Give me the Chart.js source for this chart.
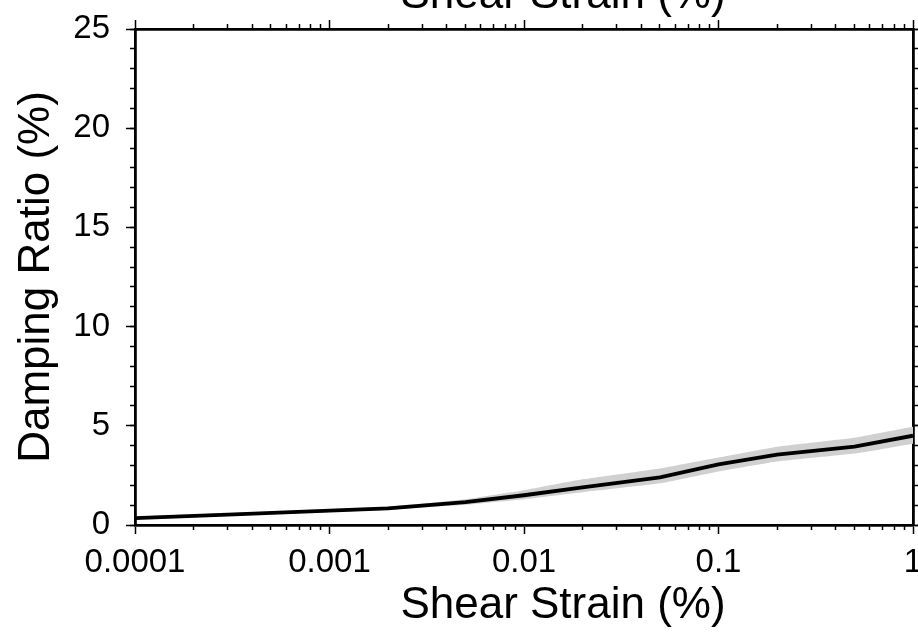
<!DOCTYPE html>
<html><head><meta charset="utf-8">
<script src="https://cdn.jsdelivr.net/npm/chart.js@4.4.0/dist/chart.umd.min.js"></script>
<style>html,body{margin:0;padding:0;background:#fff;overflow:hidden}#wrap{width:918px;height:634px;position:relative}</style>
</head><body><div id="wrap"><canvas id="c" width="918" height="634"></canvas></div>
<script>
const strain    = [0.0001, 0.0003, 0.001, 0.002, 0.005, 0.01, 0.02, 0.05, 0.1, 0.2, 0.5, 1];
const damping   = [0.35,   0.52,   0.72,  0.84,  1.15,  1.5,  1.9,  2.4,  3.05, 3.55, 3.95, 4.5];
const bandUpper = [0.42,   0.6,    0.8,   0.93,  1.3,   1.75, 2.3,  2.85, 3.4,  3.95, 4.4,  4.95];
const bandLower = [0.28,   0.45,   0.65,  0.77,  1.02,  1.3,  1.65, 2.1,  2.7,  3.2,  3.6,  4.1];

const xMajorTicks = [0.0001, 0.001, 0.01, 0.1, 1];
const xTickLabels = ['0.0001', '0.001', '0.01', '0.1', '1'];
const yMajorTicks = [0, 5, 10, 15, 20, 25];
const yTickLabels = ['0', '5', '10', '15', '20', '25'];
const xTitle = 'Shear Strain (%)';
const yTitle = 'Damping Ratio (%)';

const FONT = '"Liberation Sans", Arial, sans-serif';
const xMinorTicks = [];
for (let i = 0; i < xMajorTicks.length - 1; i++) {
  for (let k = 2; k <= 9; k++) xMinorTicks.push(+(k * xMajorTicks[i]).toPrecision(6));
}
const yMinorTicks = [];
for (let v = yMajorTicks[0]; v <= yMajorTicks[yMajorTicks.length - 1]; v++) yMinorTicks.push(v);

const pts = arr => strain.map((s, i) => ({x: s, y: arr[i]}));

function setTicks(list) { return s => { s.ticks = list.map(v => ({value: v})); }; }
function fixSize(dim, val) { return s => { s[dim] = val; s.paddingLeft = 0; s.paddingRight = 0; s.paddingTop = 0; s.paddingBottom = 0; }; }

const baseGrid = len => ({drawOnChartArea: false, drawTicks: true, tickLength: len, tickWidth: 1.5, tickColor: '#000'});
const border = {display: true, color: '#000', width: 2.8};

function xAxis(pos, major, size, labels) {
  return {
    type: 'logarithmic', axis: 'x', position: pos, min: xMajorTicks[0], max: xMajorTicks[xMajorTicks.length - 1],
    weight: major ? 1 : 0,
    afterBuildTicks: setTicks(major ? xMajorTicks : xMinorTicks),
    afterFit: fixSize('height', size),
    grid: baseGrid(major ? 9 : 5),
    border: major ? border : {display: false},
    ticks: labels ? {
      display: true, autoSkip: false, maxRotation: 0, minRotation: 0, padding: 9, color: '#000',
      font: {family: FONT, size: 33},
      callback: v => { const i = xMajorTicks.indexOf(v); return i >= 0 ? xTickLabels[i] : ''; }
    } : {display: false}
  };
}
function yAxis(pos, major, size, labels) {
  return {
    type: 'linear', axis: 'y', position: pos, min: yMajorTicks[0], max: yMajorTicks[yMajorTicks.length - 1],
    weight: major ? 1 : 0,
    afterBuildTicks: setTicks(major ? yMajorTicks : yMinorTicks),
    afterFit: fixSize('width', size),
    grid: baseGrid(major ? 9 : 5),
    border: major ? border : {display: false},
    title: labels ? {display: true, text: yTitle, color: '#000', font: {family: FONT, size: 44, lineHeight: 1.2}, padding: {top: 10, bottom: 0}} : {display: false},
    ticks: labels ? {
      display: true, autoSkip: false, padding: 16, color: '#000',
      font: {family: FONT, size: 33},
      callback: v => { const i = yMajorTicks.indexOf(v); return i >= 0 ? yTickLabels[i] : ''; }
    } : {display: false}
  };
}

const xTitlePlugin = {
  id: 'xTitles',
  afterDraw(chart) {
    const ctx = chart.ctx;
    ctx.save();
    ctx.font = '44px ' + FONT;
    ctx.fillStyle = '#000';
    ctx.textAlign = 'center';
    ctx.textBaseline = 'alphabetic';
    ctx.fillText(xTitle, 563, 618);
    ctx.fillText(xTitle, 563, 8);
    ctx.restore();
  }
};

new Chart(document.getElementById('c'), {
  type: 'line',
  data: {
    datasets: [
      {label: 'Damping', data: pts(damping), xAxisID: 'x', yAxisID: 'y', borderColor: '#000', borderWidth: 3.8, pointRadius: 0, fill: false, tension: 0},
      {label: 'Upper', data: pts(bandUpper), xAxisID: 'x', yAxisID: 'y', borderWidth: 0, borderColor: 'rgba(0,0,0,0)', backgroundColor: '#d0d0d0', pointRadius: 0, fill: '+1', tension: 0.1},
      {label: 'Lower', data: pts(bandLower), xAxisID: 'x', yAxisID: 'y', borderWidth: 0, borderColor: 'rgba(0,0,0,0)', pointRadius: 0, fill: false, tension: 0.1}
    ]
  },
  options: {
    responsive: false, devicePixelRatio: 1, animation: false,
    layout: {padding: 0},
    plugins: {legend: {display: false}, tooltip: {enabled: false}, title: {display: false}},
    scales: {
      x: xAxis('bottom', true, 109, true),
      xm: xAxis('bottom', false, 0, false),
      xTop: xAxis('top', true, 29, false),
      xmTop: xAxis('top', false, 0, false),
      y: yAxis('left', true, 135, true),
      ym: yAxis('left', false, 0, false),
      yRight: yAxis('right', true, 5, false),
      ymRight: yAxis('right', false, 0, false)
    }
  },
  plugins: [xTitlePlugin]
});
</script></body></html>
